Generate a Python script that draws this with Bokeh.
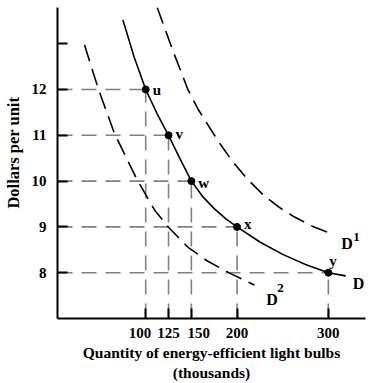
from bokeh.plotting import figure
from bokeh.models import ColumnDataSource, Range1d, FixedTicker
from bokeh.core.properties import value
from bokeh.embed import file_html
from bokeh.resources import INLINE

# Points on demand curve D
pt_labels = ["u", "v", "w", "x", "y"]
pt_qty = [100, 125, 150, 200, 300]
pt_price = [12, 11, 10, 9, 8]

# Curves (quantity, price)
d_qty = [75, 87.5, 100, 112.5, 125, 137.5, 150, 162.5, 175, 187.5, 200, 225, 250, 275, 300, 319]
d_price = [13.52, 12.7, 12, 11.47, 11, 10.49, 10, 9.66, 9.40, 9.18, 9, 8.67, 8.40, 8.18, 8, 7.93]

d1_qty = [112.6, 129.7, 146, 157, 178.8, 195, 211.6, 229.7, 246, 262.5, 283, 304.3]
d1_price = [13.79, 12.85, 12.01, 11.58, 10.89, 10.43, 10.04, 9.68, 9.43, 9.22, 9.01, 8.84]

d2_qty = [33, 48, 66, 90, 110, 126, 146, 168, 193, 219]
d2_price = [12.97, 12.02, 11.03, 10.05, 9.36, 8.97, 8.56, 8.25, 7.98, 7.73]

x_ticks = [100, 125, 150, 200, 300]
y_ticks = [8, 9, 10, 11, 12, 13]

x_title = "Quantity of energy-efficient light bulbs\n(thousands)"
y_title = "Dollars per unit"

FONT = "Liberation Serif"
NB = "\u00a0"
X0, X1 = 3.4, 340.7
Y0, Y1 = 7.0, 13.79

p = figure(width=374, height=383, output_backend="svg", toolbar_location=None,
           x_range=Range1d(X0, X1), y_range=Range1d(Y0, Y1),
           min_border_left=56, min_border_right=9, min_border_top=7, min_border_bottom=64)
p.outline_line_color = None
p.xgrid.visible = False
p.ygrid.visible = False
p.background_fill_color = "white"
p.border_fill_color = "white"

# guide lines
gray = "#808080"
p.segment(x0=[X0] * len(pt_qty), y0=pt_price, x1=pt_qty, y1=pt_price,
          line_color=gray, line_width=1.6, line_dash="15 9")
p.segment(x0=pt_qty, y0=[Y0] * len(pt_qty), x1=pt_qty, y1=pt_price,
          line_color=gray, line_width=1.6, line_dash="15 9")

# curves
p.line(d_qty, d_price, line_color="black", line_width=1.6, line_join="round")
p.line(d1_qty, d1_price, line_color="black", line_width=1.6, line_dash="17 8")
p.line(d2_qty, d2_price, line_color="black", line_width=1.6, line_dash="17 8")

# points
p.scatter(pt_qty, pt_price, size=7, color="black")

# point labels
xo = [7, 7, 7, 7, 1]
yo = [1, -1, 2, -3, -12]
src = ColumnDataSource(dict(x=pt_qty, y=pt_price, t=pt_labels, xo=xo, yo=yo))
p.text(x="x", y="y", text="t", x_offset="xo", y_offset="yo", source=src,
       text_font=value(FONT), text_font_style="bold", text_font_size="15px",
       text_align="left", text_baseline="alphabetic", text_color="black")

# curve labels
def curve_label(x, y, main, sup, dx, dy, sdx, sdy):
    p.text(x=[x], y=[y], text=[main], x_offset=dx, y_offset=dy,
           text_font=value(FONT), text_font_style="bold", text_font_size="16px",
           text_align="left", text_baseline="alphabetic", text_color="black")
    if sup:
        p.text(x=[x], y=[y], text=[sup], x_offset=sdx, y_offset=sdy,
               text_font=value(FONT), text_font_style="bold", text_font_size="13px",
               text_align="left", text_baseline="alphabetic", text_color="black")

curve_label(d_qty[-1], d_price[-1], "D", None, 7, 8, 0, 0)
curve_label(d1_qty[-1], d1_price[-1], "D", "1", 9, 9, 21, 3)
curve_label(d2_qty[-1], d2_price[-1], "D", "2", 12, 14, 23, 3)

# axes
for ax in (p.xaxis[0], p.yaxis[0]):
    ax.axis_line_width = 2
    ax.axis_line_color = "black"
    ax.major_tick_in = 10
    ax.major_tick_out = 0
    ax.major_tick_line_width = 2
    ax.minor_tick_line_color = None
    ax.major_label_text_font = FONT
    ax.major_label_text_font_style = "bold"
    ax.major_label_text_font_size = "15px"
    ax.major_label_text_color = "black"
    ax.axis_label_text_font = FONT
    ax.axis_label_text_font_style = "bold"
    ax.axis_label_text_color = "black"

p.xaxis.ticker = FixedTicker(ticks=x_ticks)
p.yaxis.ticker = FixedTicker(ticks=y_ticks)
p.yaxis.major_label_overrides = {13: ""}
# the crowded labels sit slightly apart in the original
p.xaxis.major_label_overrides = {100: "100" + NB * 3, 150: NB * 4 + "150"}
p.xaxis.major_label_standoff = 6
p.yaxis.major_label_standoff = 11
p.xaxis.axis_label = x_title
p.xaxis.axis_label_text_font_size = "15.5px"
p.xaxis.axis_label_standoff = 0
p.yaxis.axis_label = NB * 5 + y_title
p.yaxis.axis_label_text_font_size = "16.5px"
p.yaxis.axis_label_standoff = 6

open("out.html", "w").write(file_html(p, INLINE))
